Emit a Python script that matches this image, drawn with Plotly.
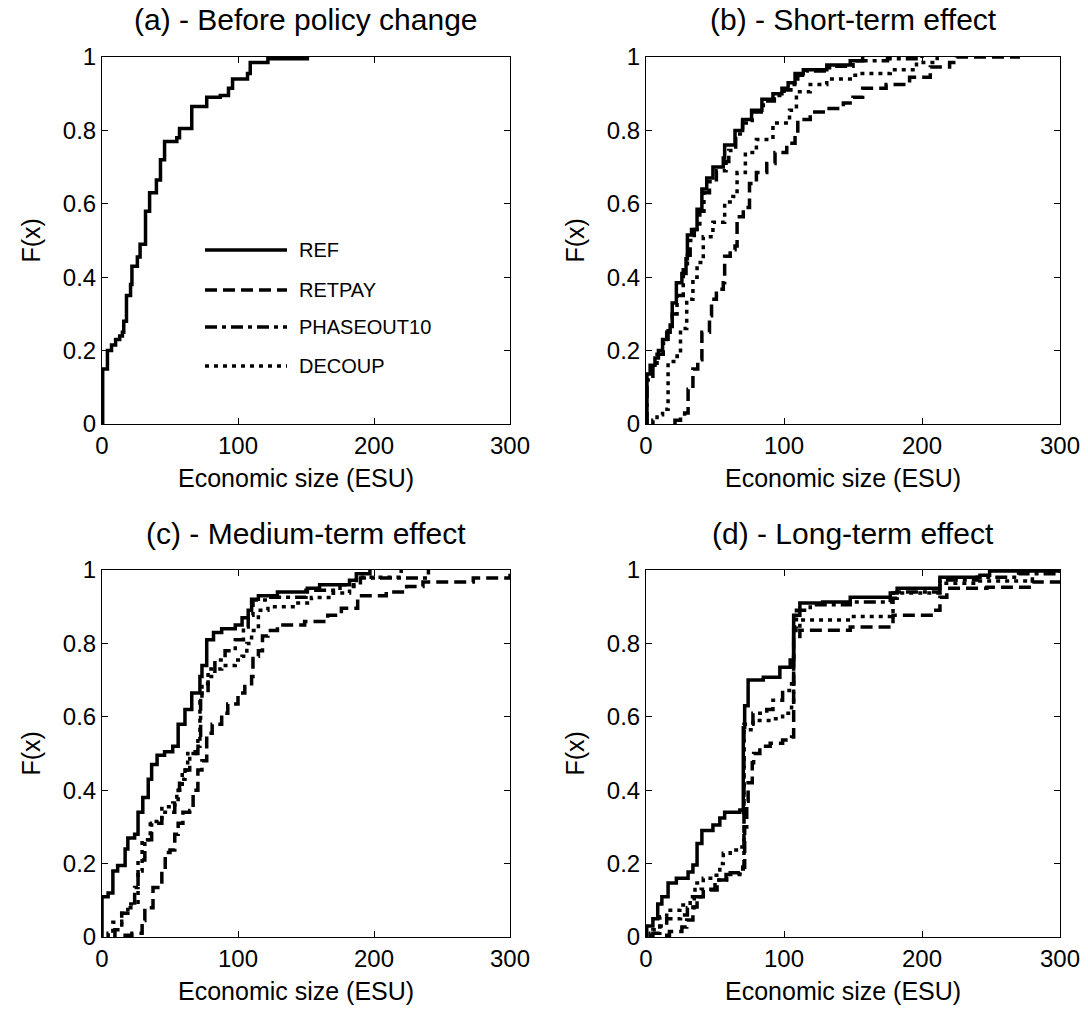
import plotly.graph_objects as go

# ---------------- data (step points of empirical CDFs) ----------------
# Panel (a) - Before policy change
A_REF_X = [0.5, 0.5, 4, 7, 10, 13, 15, 16, 18, 21, 22, 26, 28, 32, 35, 40, 43, 46, 55, 57, 63, 66, 77, 87, 93, 96, 107, 109, 122, 151]
A_REF_F = [0, 0.15, 0.2, 0.215, 0.23, 0.24, 0.25, 0.28, 0.35, 0.38, 0.43, 0.455, 0.49, 0.58, 0.63, 0.665, 0.72, 0.77, 0.78, 0.805, 0.805, 0.865, 0.89, 0.895, 0.915, 0.94, 0.955, 0.985, 0.995, 1.0]

# Panel (b) - Short-term effect
B_REF_X = [0.7, 0.7, 3, 6.5, 9, 12, 15, 17.5, 19, 22, 26, 29, 30, 33, 37, 40.5, 44, 48.5, 56, 57, 64.5, 70, 76.5, 84, 92, 98.5, 103, 108, 114, 131, 148, 157]
B_REF_F = [0, 0.136, 0.16, 0.18, 0.2, 0.23, 0.25, 0.27, 0.33, 0.385, 0.41, 0.45, 0.515, 0.53, 0.585, 0.64, 0.67, 0.70, 0.725, 0.76, 0.80, 0.83, 0.855, 0.885, 0.90, 0.915, 0.93, 0.955, 0.965, 0.978, 0.99, 1.0]
B_RET_X = [21, 21, 25, 28, 30.5, 34, 37.5, 40.5, 46, 47.5, 51, 56, 57, 61, 64.5, 66, 70.5, 75, 80, 87.5, 93.5, 102, 108, 110, 119, 131, 143, 150, 157, 174, 191, 206, 220, 225, 271]
B_RET_F = [0, 0.01, 0.02, 0.03, 0.095, 0.15, 0.175, 0.25, 0.295, 0.34, 0.367, 0.385, 0.457, 0.475, 0.485, 0.565, 0.59, 0.655, 0.685, 0.71, 0.74, 0.765, 0.79, 0.83, 0.85, 0.86, 0.875, 0.89, 0.915, 0.925, 0.945, 0.973, 0.985, 1.0, 1.0]
B_PHA_X = [0.7, 0.7, 5, 8, 12.5, 16, 19, 22.5, 27, 30, 32, 35, 39, 42, 46, 51, 58, 60, 65, 70, 77, 85, 93, 100, 105, 110, 116, 133, 150, 175, 200]
B_PHA_F = [0, 0.12, 0.16, 0.19, 0.22, 0.26, 0.30, 0.35, 0.42, 0.46, 0.50, 0.53, 0.58, 0.63, 0.66, 0.69, 0.715, 0.745, 0.79, 0.82, 0.85, 0.88, 0.895, 0.91, 0.925, 0.95, 0.962, 0.975, 0.99, 0.995, 1.0]
B_DEC_X = [5, 5, 8, 12, 16, 16, 22.5, 25, 29.5, 34, 37, 41.5, 48.5, 57, 63, 66, 72, 80, 92, 104, 109, 119, 131, 148, 155, 177, 196, 211]
B_DEC_F = [0, 0.01, 0.025, 0.04, 0.055, 0.17, 0.185, 0.26, 0.34, 0.40, 0.44, 0.51, 0.55, 0.605, 0.62, 0.685, 0.74, 0.775, 0.82, 0.855, 0.905, 0.925, 0.94, 0.95, 0.955, 0.965, 0.985, 1.0]

# Panel (c) - Medium-term effect
C_REF_X = [0, 0, 4.5, 8, 11.5, 17, 19, 24, 26.5, 30, 34, 36.5, 40.5, 46, 52, 56, 61, 66, 72, 73.5, 77, 82, 88, 98, 103, 107.5, 110, 115, 129, 151, 160, 182, 187, 197]
C_REF_F = [0, 0.11, 0.12, 0.18, 0.195, 0.24, 0.27, 0.28, 0.34, 0.38, 0.43, 0.47, 0.495, 0.505, 0.52, 0.58, 0.62, 0.665, 0.71, 0.74, 0.81, 0.83, 0.84, 0.85, 0.87, 0.89, 0.92, 0.93, 0.94, 0.95, 0.96, 0.972, 0.99, 1.0]
C_RET_X = [17, 17, 22, 29.5, 31.5, 37.5, 44, 46.5, 50, 53.5, 56, 59.5, 64.5, 67, 70.5, 73.5, 77, 81, 88, 92.5, 100, 105, 110, 111, 115, 118, 122, 129, 149, 166, 176, 188, 209, 224, 236, 273, 300]
C_RET_F = [0, 0.005, 0.01, 0.045, 0.08, 0.135, 0.18, 0.23, 0.237, 0.28, 0.31, 0.34, 0.345, 0.40, 0.455, 0.48, 0.555, 0.58, 0.61, 0.635, 0.665, 0.69, 0.71, 0.765, 0.78, 0.82, 0.835, 0.85, 0.86, 0.877, 0.896, 0.93, 0.94, 0.955, 0.967, 0.978, 0.99]
C_PHA_X = [9.5, 9.5, 14.5, 19, 24, 26.5, 31.5, 36.5, 44, 53.5, 56, 57, 61, 64.5, 70.5, 72.5, 78, 83, 90.5, 98, 104, 107.5, 111, 122, 150, 175, 190, 240]
C_PHA_F = [0, 0.02, 0.065, 0.08, 0.135, 0.21, 0.265, 0.31, 0.34, 0.36, 0.40, 0.43, 0.455, 0.50, 0.55, 0.665, 0.71, 0.755, 0.78, 0.81, 0.845, 0.877, 0.918, 0.926, 0.945, 0.96, 0.978, 1.0]
C_DEC_X = [4.5, 4.5, 8, 14.5, 19, 26.5, 29.5, 35.5, 44, 52, 55, 59, 63, 68.5, 72, 73.5, 78, 88, 98, 103, 106.5, 110, 115, 122, 142, 154, 170, 182, 187, 220]
C_DEC_F = [0, 0.01, 0.04, 0.065, 0.09, 0.18, 0.265, 0.315, 0.355, 0.365, 0.40, 0.455, 0.50, 0.52, 0.64, 0.69, 0.73, 0.74, 0.755, 0.765, 0.80, 0.835, 0.89, 0.90, 0.91, 0.925, 0.937, 0.955, 0.98, 1.0]

# Panel (d) - Long-term effect
D_REF_X = [0.5, 0.5, 5, 8.5, 11.5, 16, 22, 30.5, 34, 37, 40.5, 48.5, 53.5, 57, 68, 70.5, 71.5, 74, 85, 97, 104.5, 107, 111.5, 128, 148, 177, 182, 211, 213, 242, 249, 300]
D_REF_F = [0, 0.03, 0.05, 0.09, 0.11, 0.147, 0.16, 0.177, 0.196, 0.255, 0.29, 0.305, 0.324, 0.34, 0.346, 0.57, 0.63, 0.70, 0.708, 0.735, 0.755, 0.877, 0.91, 0.913, 0.926, 0.937, 0.95, 0.95, 0.98, 0.986, 0.997, 1.0]
D_RET_X = [15, 15, 17, 26, 29.5, 34, 37, 41.5, 51.5, 58.5, 68, 70.5, 71.5, 73, 74, 77, 78, 82.5, 90, 99, 105.5, 107, 111.5, 148, 172, 179, 208, 213, 218, 247, 280, 300]
D_RET_F = [0, 0.005, 0.015, 0.027, 0.046, 0.082, 0.11, 0.128, 0.155, 0.175, 0.19, 0.19, 0.30, 0.37, 0.42, 0.475, 0.50, 0.52, 0.528, 0.537, 0.545, 0.81, 0.836, 0.845, 0.845, 0.877, 0.89, 0.926, 0.95, 0.953, 0.967, 0.978]
D_PHA_X = [5, 5, 10, 15, 25, 30, 35, 40, 50, 58, 68, 70.5, 71, 77.5, 87.5, 92, 99, 105.5, 107, 109, 119, 148, 177, 182, 211, 213, 240, 270, 300]
D_PHA_F = [0, 0.01, 0.03, 0.05, 0.06, 0.08, 0.11, 0.13, 0.155, 0.17, 0.185, 0.19, 0.58, 0.61, 0.62, 0.645, 0.672, 0.69, 0.845, 0.89, 0.905, 0.913, 0.923, 0.94, 0.94, 0.973, 0.98, 0.99, 0.995]
D_DEC_X = [3, 3, 5, 10, 15, 24.5, 32, 35.5, 41.5, 48.5, 53.5, 56, 61, 67, 70.5, 71, 77.5, 92, 99, 105.5, 107, 111.5, 148, 177, 179, 211, 213, 240, 280]
D_DEC_F = [0, 0.01, 0.02, 0.055, 0.073, 0.087, 0.11, 0.147, 0.16, 0.168, 0.20, 0.228, 0.237, 0.245, 0.26, 0.565, 0.59, 0.595, 0.61, 0.637, 0.835, 0.864, 0.873, 0.88, 0.937, 0.937, 0.964, 0.97, 0.985]

TITLES = ["(a) - Before policy change", "(b) - Short-term effect",
          "(c) - Medium-term effect", "(d) - Long-term effect"]
SERIES_NAMES = ["REF", "RETPAY", "PHASEOUT10", "DECOUP"]
X_TICKS = [0, 100, 200, 300]
Y_TICKS = [0, 0.2, 0.4, 0.6, 0.8, 1]
Y_TICKTEXT = ["0", "0.2", "0.4", "0.6", "0.8", "1"]
X_LABEL = "Economic size (ESU)"
Y_LABEL = "F(x)"

# ---------------- styling ----------------
W, H = 1088, 1009
FONT = "Liberation Sans, Arial, Helvetica, sans-serif"
LW = 3.5
DASHES = {"REF": "solid", "RETPAY": "12px,6px", "PHASEOUT10": "12px,5px,4px,5px", "DECOUP": "4px,5px"}

# plot areas in pixels: (left, right, top, bottom)
BOXES = [(102, 510, 57, 424), (646, 1060, 57, 424), (102, 510, 570, 937), (646, 1060, 570, 937)]

panels = [
    [("REF", A_REF_X, A_REF_F)],
    [("REF", B_REF_X, B_REF_F), ("RETPAY", B_RET_X, B_RET_F), ("PHASEOUT10", B_PHA_X, B_PHA_F), ("DECOUP", B_DEC_X, B_DEC_F)],
    [("REF", C_REF_X, C_REF_F), ("RETPAY", C_RET_X, C_RET_F), ("PHASEOUT10", C_PHA_X, C_PHA_F), ("DECOUP", C_DEC_X, C_DEC_F)],
    [("REF", D_REF_X, D_REF_F), ("RETPAY", D_RET_X, D_RET_F), ("PHASEOUT10", D_PHA_X, D_PHA_F), ("DECOUP", D_DEC_X, D_DEC_F)],
]

fig = go.Figure()
layout = dict(width=W, height=H, autosize=False, margin=dict(l=0, r=0, t=0, b=0, pad=0),
              paper_bgcolor="white", plot_bgcolor="white", showlegend=False,
              font=dict(family=FONT, size=24, color="black"))

annotations = []
shapes = []
for i, (box, series) in enumerate(zip(BOXES, panels)):
    n = "" if i == 0 else str(i + 1)
    l, r, t, b = box
    xd = [l / W, r / W]
    yd = [1 - b / H, 1 - t / H]
    axis_common = dict(showline=True, linecolor="black", linewidth=1, mirror="ticks",
                       ticks="inside", ticklen=6, tickwidth=1, tickcolor="black",
                       showgrid=False, zeroline=False, fixedrange=True, automargin=False,
                       tickfont=dict(family=FONT, size=24, color="black"))
    layout["xaxis" + n] = dict(axis_common, domain=xd, range=[0, 300], tickvals=X_TICKS,
                               anchor="y" + n)
    layout["yaxis" + n] = dict(axis_common, domain=yd, range=[0, 1], tickvals=Y_TICKS,
                               ticktext=Y_TICKTEXT, anchor="x" + n)
    for name, xs, fs in series:
        fig.add_trace(go.Scatter(x=xs, y=fs, mode="lines", name=name, line_shape="hv",
                                 line=dict(color="black", width=LW, dash=DASHES[name]),
                                 xaxis="x" + n, yaxis="y" + n, hoverinfo="skip"))
    cx = (l + r) / 2
    annotations.append(dict(text=TITLES[i], x=cx / W, y=1 - (t - 37) / H, xref="paper", yref="paper",
                            showarrow=False, xanchor="center", yanchor="middle",
                            font=dict(family=FONT, size=30, color="black")))
    annotations.append(dict(text=X_LABEL, x=(cx - 10) / W, y=1 - (b + 54) / H, xref="paper",
                            yref="paper", showarrow=False, xanchor="center", yanchor="middle",
                            font=dict(family=FONT, size=25, color="black")))
    annotations.append(dict(text=Y_LABEL, x=(l - 72) / W, y=1 - ((t + b) / 2) / H, xref="paper",
                            yref="paper", showarrow=False, textangle=-90, xanchor="center",
                            yanchor="middle", font=dict(family=FONT, size=25, color="black")))

# legend (drawn inside panel a)
LEG_ROWS = [250, 290, 327, 366]
for name, py in zip(SERIES_NAMES, LEG_ROWS):
    yp = 1 - py / H
    shapes.append(dict(type="line", xref="paper", yref="paper", x0=205 / W, x1=287 / W, y0=yp, y1=yp,
                       line=dict(color="black", width=LW, dash=DASHES[name])))
    annotations.append(dict(text=name, x=297 / W, y=yp, xref="paper", yref="paper", showarrow=False,
                            xanchor="left", yanchor="middle",
                            font=dict(family=FONT, size=20, color="black")))

layout["annotations"] = annotations
layout["shapes"] = shapes
fig.update_layout(**layout)

POST = ("var gd=document.getElementById('{plot_id}');"
        "document.documentElement.style.margin='0';document.documentElement.style.padding='0';"
        "document.body.style.margin='0';document.body.style.padding='0';"
        "document.documentElement.style.overflow='hidden';document.body.style.overflow='hidden';"
        "gd.style.position='fixed';gd.style.left='0px';gd.style.top='0px';")

fig.write_html("out.html", config={"displayModeBar": False}, post_script=POST)
